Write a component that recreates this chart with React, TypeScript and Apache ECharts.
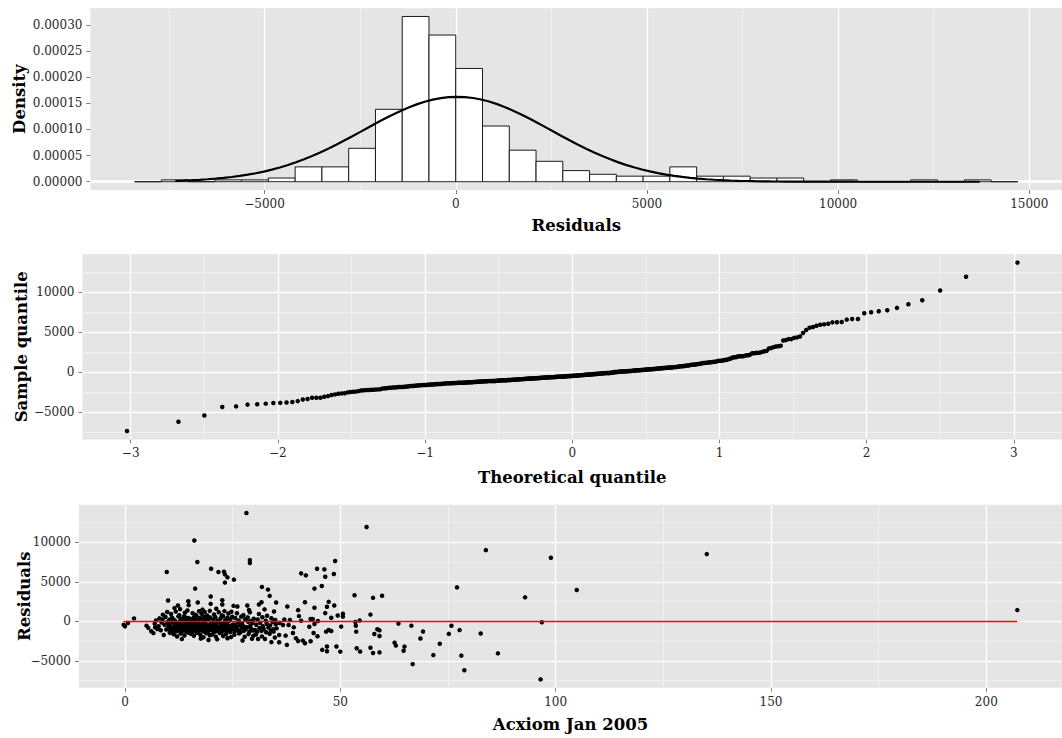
import React, { useEffect, useRef } from 'react';
import * as echarts from 'echarts';

// ---------- data: [Acxiom Jan 2005, residual] ----------
const sparseFar: [number, number][] = [
  [62.6, -2690], [62.9, -3060], [64.9, -3190], [64.7, -3720], [63.5, -280], [66.5, -540], [66.8, -5403],
  [68.6, -2160], [69.2, -1280], [71.6, -4260], [73.1, -2830], [75.2, -1580], [75.8, -560], [77.7, -1100],
  [77.1, 4300], [78.1, -4330], [78.8, -6180], [82.6, -1530], [83.8, 9011], [86.6, -4040], [92.9, 3040],
  [96.5, -7334], [96.8, -100], [98.9, 8047], [104.9, 3970], [135.1, 8508], [207.2, 1430],
];
const sparse50to60: [number, number][] = [
  [53.3, 3310], [57.6, 2980], [59.7, 3250], [56.1, 11945], [53.5, -80], [53.6, -560], [53.7, -1300],
  [54.5, 120], [57.0, 860], [53.8, -3400], [54.6, -3820], [57.0, -3330], [57.6, -4000], [59.1, -3920],
  [57.9, -1600], [58.6, -1000], [59.1, -1130], [59.1, -1840], [50.6, 960], [50.6, 600], [50.2, -660],
  [50.0, -3830],
];
const sparse35to50: [number, number][] = [
  [48.8, 7628], [48.5, 5990], [44.6, 6664], [46.3, 6580], [46.5, 5654], [40.9, 6073], [42.0, 5821],
  [44.0, 4146], [45.7, 4481], [41.8, 2429], [47.3, 2471], [37.7, 1885], [44.0, 1717], [46.9, 1843],
  [48.6, 2010], [40.2, 1424], [46.5, 1047], [49.4, 754], [47.9, 461], [40.4, 670], [40.9, 84],
  [37.0, 251], [38.3, 168], [43.1, 293], [43.6, 300], [44.8, 42], [46.7, -1298], [47.3, -1090],
  [47.9, -1214], [44.0, -335], [42.8, -670], [44.7, -1885], [43.8, -1466], [43.1, -2513], [41.8, -2764],
  [41.3, -2429], [40.2, -2471], [39.7, -2136], [39.0, -1466], [37.6, -2973], [35.8, -2638], [35.8, -1717],
  [37.3, -1801], [45.8, -3602], [46.9, -3183], [46.9, -3769], [49.1, -3183], [34.5, -1298],
  [35.9, -209], [36.7, -461], [38.0, -461], [39.2, -754],
];
const clusterOutliers: [number, number][] = [
  [28.2, 13705], [16.1, 10226], [16.8, 7502], [29.0, 7753], [29.0, 7376], [9.7, 6240], [20.0, 6664],
  [21.7, 6250], [23.0, 6280], [23.2, 5947], [23.8, 5570], [25.3, 5281], [23.2, 4904], [16.3, 4146],
  [31.8, 4359], [33.2, 4020], [33.6, 3225], [19.9, 3141], [22.6, 2680], [10.0, 2638], [14.7, 2555],
  [31.7, 2429], [35.1, 2387], [16.9, 2387], [19.9, 2220], [22.6, 2136], [31.1, 2136], [14.8, 2052],
  [12.3, 2010], [28.4, 2010], [25.2, 1968], [26.1, 1885], [12.8, 1550],
];
const farLeft: [number, number][] = [[-0.3, -419], [0.0, -628], [0.7, -209], [2.1, 377]];
const band5to10: [number, number][] = [
  [5.0, -540], [5.4, -820], [6.1, -1250], [6.6, -1480], [6.9, -300], [7.2, 120], [7.5, -960], [7.8, -610],
  [8.0, 380], [8.3, -1120], [8.5, -150], [8.8, 850], [9.0, -1720], [9.2, -420], [9.4, 560], [9.6, -1030],
  [9.8, 1180], [7.0, -760], [8.7, 250], [9.9, -80],
];
const band10to15: [number, number][] = [
  [13.2, -2240],
  [10.4, -1450], [11.3, -1620], [12.1, -1910], [12.9, -1530], [13.8, -1780], [14.6, -1410],
  [10.1, -730], [10.5, -1180], [10.8, -890], [11.1, -1340], [11.4, -1010], [11.7, -780], [12.0, -1250],
  [12.3, -940], [12.6, -1090], [12.8, -820], [13.1, -1370], [13.4, -1150], [13.7, -980], [14.0, -710],
  [14.2, -1290], [14.5, -860], [14.9, -1060],
  [10.2, -350], [10.6, -620], [11.0, -90], [11.5, -480], [11.9, -240], [12.2, -680], [12.5, -410],
  [12.7, -30], [13.0, -560], [13.3, -200], [13.6, -640], [14.1, -310], [14.4, -520], [14.8, -140],
  [10.3, 220], [10.9, 480], [11.6, 90], [12.4, 640], [12.9, 350], [13.5, 160], [13.9, 560], [14.3, 40],
  [14.7, 420], [11.2, 290], [13.7, 610],
  [10.7, 930], [11.8, 1240], [12.6, 780], [13.9, 1100], [14.5, 1370],
  [11.5, 1680],
];
const band15to20: [number, number][] = [
  [17.6, -2180], [19.4, -2350],
  [15.3, -1560], [16.0, -1820], [16.8, -1440], [17.5, -1690], [18.2, -2010], [18.9, -1500], [19.7, -1760],
  [15.1, -1020], [15.4, -770], [15.7, -1310], [15.9, -900], [16.2, -1160], [16.5, -740], [16.7, -1390],
  [17.0, -990], [17.2, -1230], [17.4, -840], [17.8, -1110], [18.0, -705], [18.3, -1280], [18.5, -950],
  [18.8, -1070], [19.1, -810], [19.3, -1350], [19.6, -1000],
  [15.0, -450], [15.5, -180], [15.8, -600], [16.1, -320], [16.4, -50], [16.9, -530], [17.1, -260],
  [17.3, -690], [17.7, -390], [18.1, -120], [18.4, -570], [18.7, -280], [19.0, -460], [19.5, -650],
  [19.8, -350],
  [15.2, 310], [15.6, 70], [16.0, 530], [16.3, 200], [16.6, 680], [17.0, 130], [17.4, 440], [17.9, 260],
  [18.3, 590], [18.6, 20], [19.0, 380], [19.4, 170], [19.8, 500],
  [15.7, 1050], [16.4, 830], [17.2, 1290], [17.8, 960], [18.5, 1180], [19.1, 740], [19.7, 1330],
  [18.0, 1490],
];
const band20to25: [number, number][] = [
  [21.4, -2270], [23.8, -2140],
  [20.3, -1640], [21.1, -1930], [22.0, -1470], [22.8, -1850], [23.5, -1580], [24.6, -1990],
  [20.1, -1080], [20.4, -780], [20.8, -1330], [21.0, -920], [21.3, -1200], [21.7, -720], [22.1, -1050],
  [22.4, -1380], [22.6, -860], [22.9, -1140], [23.2, -970], [23.6, -1260], [23.9, -800], [24.2, -1100],
  [24.5, -1360], [24.8, -900],
  [20.2, -420], [20.6, -150], [20.9, -590], [21.2, -290], [21.6, -670], [21.9, -60], [22.3, -500],
  [22.7, -230], [23.0, -620], [23.4, -370], [23.7, -100], [24.0, -540], [24.9, -460],
  [20.5, 240], [21.0, 520], [21.5, 90], [22.2, 380], [22.8, 650], [23.3, 150], [23.8, 460], [24.1, 30],
  [24.5, 300], [24.9, 580],
  [20.7, 870], [21.8, 1150], [22.5, 760], [23.1, 1300], [24.0, 990], [24.7, 1220],
  [21.2, 1600],
];
const band25to30: [number, number][] = [
  [27.3, -2410], [29.5, -2200],
  [25.4, -1700], [26.5, -1520], [27.8, -1950], [28.7, -1610], [29.8, -1830],
  [25.1, -950], [25.5, -1240], [25.9, -780], [26.3, -1100], [26.8, -1370], [27.1, -870], [27.6, -1180],
  [28.0, -1010], [28.4, -750], [28.9, -1290], [29.3, -920], [29.7, -1150],
  [25.3, -380], [25.8, -610], [26.2, -120], [26.7, -480], [27.2, -250], [27.7, -660], [28.6, -40],
  [29.1, -560], [29.6, -200],
  [25.6, 420], [26.4, 110], [27.0, 600], [27.9, 270], [28.5, 510], [29.2, 60], [29.9, 340],
  [26.0, 1020], [27.5, 790], [29.0, 1160],
  [28.8, 1450],
];
const band30to36: [number, number][] = [
  [30.9, -2220], [32.5, -2230], [34.0, -2620],
  [30.4, -1650], [31.8, -1900], [33.6, -1560], [34.8, -2040],
  [30.2, -1090], [30.7, -1320], [31.2, -850], [31.7, -1200], [32.2, -960], [32.8, -1380], [33.3, -780],
  [33.9, -1130], [34.5, -1000], [35.2, -880],
  [30.5, -430], [31.4, -180], [32.0, -610], [32.9, -290], [33.7, -520], [34.3, -90], [35.0, -360],
  [30.8, 230], [31.9, 520], [32.7, 90], [34.0, 400], [34.9, 180],
  [31.1, 940], [33.0, 710], [34.6, 1250],
  [32.4, 1520],
];

// histogram bins
const binStart = -8400;
const binWidth = 700;
const binCount = 33;

// tick labels / grid lines
const densityTicks = [0, 0.00005, 0.0001, 0.00015, 0.0002, 0.00025, 0.0003];
const densityMinor = [0.000025, 0.000075, 0.000125, 0.000175, 0.000225, 0.000275, 0.000325];
const residXTicks = [-5000, 0, 5000, 10000, 15000];
const residXMinor = [-7500, -2500, 2500, 7500, 12500];
const qqXTicks = [-3, -2, -1, 0, 1, 2, 3];
const qqXMinor = [-2.5, -1.5, -0.5, 0.5, 1.5, 2.5];
const residYTicks = [-5000, 0, 5000, 10000];
const residYMinor = [-7500, -2500, 2500, 7500, 12500];
const acxiomTicks = [0, 50, 100, 150, 200];
const acxiomMinor = [25, 75, 125, 175];

const FONT = 'DejaVu Serif';
const BG = '#E5E5E5';
const MAJOR = { color: '#FFFFFF', width: 1.3, type: 'solid' };
const MINOR = { color: '#F2F2F2', width: 0.8, type: 'solid' };

function qnorm(p: number): number {
  const a = [-39.69683028665376, 220.9460984245205, -275.9285104469687, 138.357751867269, -30.66479806614716, 2.506628277459239];
  const b = [-54.47609879822406, 161.5858368580409, -155.6989798598866, 66.80131188771972, -13.28068155288572];
  const c = [-0.007784894002430293, -0.3223964580411365, -2.400758277161838, -2.549732539343734, 4.374664141464968, 2.938163982698783];
  const d = [0.007784695709041462, 0.3224671290700398, 2.445134137142996, 3.754408661907416];
  const pl = 0.02425;
  if (p < pl) {
    const q = Math.sqrt(-2 * Math.log(p));
    return (((((c[0] * q + c[1]) * q + c[2]) * q + c[3]) * q + c[4]) * q + c[5]) / ((((d[0] * q + d[1]) * q + d[2]) * q + d[3]) * q + 1);
  }
  if (p <= 1 - pl) {
    const q = p - 0.5;
    const r = q * q;
    return (((((a[0] * r + a[1]) * r + a[2]) * r + a[3]) * r + a[4]) * r + a[5]) * q / (((((b[0] * r + b[1]) * r + b[2]) * r + b[3]) * r + b[4]) * r + 1);
  }
  const q = Math.sqrt(-2 * Math.log(1 - p));
  return -(((((c[0] * q + c[1]) * q + c[2]) * q + c[3]) * q + c[4]) * q + c[5]) / ((((d[0] * q + d[1]) * q + d[2]) * q + d[3]) * q + 1);
}

const minus = (s: string) => s.replace('-', '\u2212');

// an empty series per panel that only carries the panel's grid lines (drawn beneath the data)
function gridSeries(idx: number, xMinor: number[], xMajor: number[], yMinor: number[], yMajor: number[]) {
  return {
    type: 'line',
    xAxisIndex: idx,
    yAxisIndex: idx,
    z: 1,
    data: [],
    silent: true,
    markLine: {
      silent: true,
      symbol: 'none',
      z: 1,
      label: { show: false },
      emphasis: { disabled: true },
      data: [
        ...xMinor.map((v) => ({ xAxis: v, lineStyle: MINOR })),
        ...yMinor.map((v) => ({ yAxis: v, lineStyle: MINOR })),
        ...xMajor.map((v) => ({ xAxis: v, lineStyle: MAJOR })),
        ...yMajor.map((v) => ({ yAxis: v, lineStyle: MAJOR })),
      ],
    },
  };
}

function buildOption() {
  const points = [
    ...farLeft, ...band5to10, ...band10to15, ...band15to20, ...band20to25, ...band25to30, ...band30to36,
    ...clusterOutliers, ...sparse35to50, ...sparse50to60, ...sparseFar,
  ];
  const resid = points.map((p) => p[1]);
  const n = resid.length;
  const mean = resid.reduce((s, v) => s + v, 0) / n;
  const sd = Math.sqrt(resid.reduce((s, v) => s + (v - mean) * (v - mean), 0) / (n - 1));
  const rMin = Math.min(...resid);
  const rMax = Math.max(...resid);
  const rRange = rMax - rMin;

  // histogram
  const counts = new Array(binCount).fill(0);
  resid.forEach((v) => {
    const k = Math.floor((v - binStart) / binWidth);
    if (k >= 0 && k < binCount) counts[k] += 1;
  });
  const bars = counts.map((c, k) => [binStart + k * binWidth, binStart + (k + 1) * binWidth, c / (n * binWidth)]);
  const maxD = Math.max(...bars.map((b) => b[2]));
  const hLo = binStart;
  const hHi = binStart + binCount * binWidth;
  const hSpan = hHi - hLo;

  // normal curve
  const curve: number[][] = [];
  for (let i = 0; i <= 100; i++) {
    const x = rMin + (rRange * i) / 100;
    const z = (x - mean) / sd;
    curve.push([x, Math.exp(-0.5 * z * z) / (sd * Math.sqrt(2 * Math.PI))]);
  }

  // QQ
  const sorted = [...resid].sort((a, b) => a - b);
  const qq = sorted.map((v, i) => [qnorm((i + 0.5) / n), v]);
  const qMax = Math.abs(qq[0][0]);

  const xs = points.map((p) => p[0]);
  const xMin = Math.min(...xs);
  const xMax = Math.max(...xs);
  const xR = xMax - xMin;

  const axisCommon = (gridIndex: number, min: number, max: number, ticks: number[], fmt: (v: number) => string, name: string, nameGap: number, rotate = false) => ({
    type: 'value',
    gridIndex,
    min,
    max,
    name,
    nameLocation: 'middle',
    nameGap,
    nameMoveOverlap: false,
    nameRotate: rotate ? 90 : 0,
    nameTextStyle: { fontFamily: FONT, fontWeight: 'bold', fontSize: 16.5, color: '#000' },
    axisLine: { show: false, onZero: false },
    axisTick: { show: true, length: 4, customValues: ticks, lineStyle: { color: '#7F7F7F', width: 1 } },
    axisLabel: { customValues: ticks, formatter: fmt, color: '#262626', fontFamily: FONT, fontSize: 12, margin: 8 },
    splitLine: { show: false },
    minorSplitLine: { show: false },
  });

  const intFmt = (v: number) => minus(String(Math.round(v)));

  return {
    animation: false,
    grid: [
      { left: 90.4, right: -2.6, top: 8.2, height: 181.8, show: true, backgroundColor: BG, borderWidth: 0 },
      { left: 82.5, right: -2.0, top: 254.2, height: 185.2, show: true, backgroundColor: BG, borderWidth: 0 },
      { left: 79, right: -1.4, top: 504.7, height: 183, show: true, backgroundColor: BG, borderWidth: 0 },
    ],
    xAxis: [
      axisCommon(0, hLo - 0.05 * hSpan, hHi + 0.05 * hSpan, residXTicks, intFmt, 'Residuals', 26.5),
      axisCommon(1, -qMax * 1.1, qMax * 1.1, qqXTicks, intFmt, 'Theoretical quantile', 30),
      axisCommon(2, xMin - 0.05 * xR, xMax + 0.05 * xR, acxiomTicks, intFmt, 'Acxiom Jan 2005', 27.8),
    ],
    yAxis: [
      axisCommon(0, -0.05 * maxD, 1.05 * maxD, densityTicks, (v: number) => v.toFixed(5), 'Density', 62, true),
      axisCommon(1, rMin - 0.05 * rRange, rMax + 0.05 * rRange, residYTicks, intFmt, 'Sample quantile', 53, true),
      axisCommon(2, rMin - 0.05 * rRange, rMax + 0.05 * rRange, residYTicks, intFmt, 'Residuals', 46, true),
    ],
    series: [
      gridSeries(0, residXMinor, residXTicks, densityMinor, densityTicks),
      gridSeries(1, qqXMinor, qqXTicks, residYMinor, residYTicks),
      gridSeries(2, acxiomMinor, acxiomTicks, residYMinor, residYTicks),
      {
        type: 'custom',
        xAxisIndex: 0,
        yAxisIndex: 0,
        z: 5,
        data: bars,
        encode: { x: [0, 1], y: 2 },
        renderItem: (_params: any, api: any) => {
          const p0 = api.coord([api.value(0), api.value(2)]);
          const p1 = api.coord([api.value(1), 0]);
          return {
            type: 'rect',
            shape: { x: p0[0], y: p0[1], width: p1[0] - p0[0], height: p1[1] - p0[1] },
            style: { fill: '#FFFFFF', stroke: '#1A1A1A', lineWidth: 1 },
          };
        },
      },
      {
        type: 'line',
        xAxisIndex: 0,
        yAxisIndex: 0,
        z: 6,
        data: curve,
        showSymbol: false,
        symbol: 'none',
        lineStyle: { color: '#000', width: 2.2 },
      },
      {
        type: 'scatter',
        xAxisIndex: 1,
        yAxisIndex: 1,
        z: 5,
        data: qq,
        symbolSize: 4.5,
        itemStyle: { color: '#000', opacity: 1 },
      },
      {
        type: 'scatter',
        xAxisIndex: 2,
        yAxisIndex: 2,
        z: 5,
        data: points,
        symbolSize: 4.5,
        itemStyle: { color: '#000', opacity: 1 },
      },
      {
        type: 'line',
        xAxisIndex: 2,
        yAxisIndex: 2,
        z: 6,
        data: [[xMin, 0], [xMax, 0]],
        showSymbol: false,
        symbol: 'none',
        lineStyle: { color: '#FF0000', width: 1.5 },
      },
    ],
  };
}

export default function App() {
  const ref = useRef<HTMLDivElement>(null);
  useEffect(() => {
    if (!ref.current) return;
    const chart = echarts.init(ref.current, null, { renderer: 'svg' });
    chart.setOption(buildOption() as any);
    return () => chart.dispose();
  }, []);
  return (
    <div
      ref={ref}
      style={{ position: 'absolute', left: 0, top: 0, width: 1062, height: 738, background: '#FFFFFF', overflow: 'hidden' }}
    />
  );
}
